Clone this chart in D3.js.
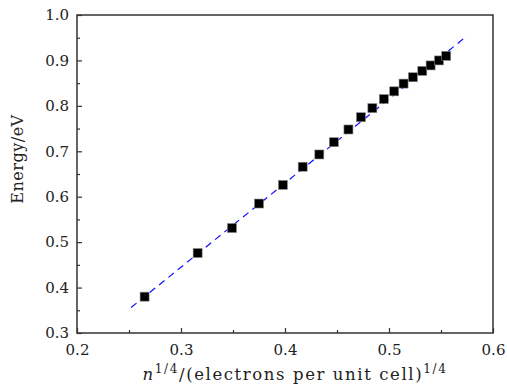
<!DOCTYPE html>
<html>
<head>
<meta charset="utf-8">
<script src="https://cdn.jsdelivr.net/npm/d3@7"></script>
<style>
  body { margin: 0; background: #fff; }
  text { font-family: "DejaVu Serif", "Liberation Serif", serif; fill: #222; }
</style>
</head>
<body>
<div id="chart"></div>
<script>
// Measured points
const xValues = [0.265, 0.316, 0.349, 0.375, 0.398, 0.417, 0.433, 0.447, 0.461, 0.473,
                 0.484, 0.495, 0.505, 0.514, 0.523, 0.532, 0.540, 0.548, 0.555];
const yValues = [0.380, 0.476, 0.531, 0.585, 0.626, 0.666, 0.693, 0.720, 0.748, 0.775,
                 0.795, 0.815, 0.832, 0.849, 0.863, 0.877, 0.889, 0.900, 0.910];
// Linear fit line end points
const fitX = [0.252, 0.575];
const fitY = [0.356, 0.954];
const xTicks = [0.2, 0.3, 0.4, 0.5, 0.6];
const yTicks = [0.3, 0.4, 0.5, 0.6, 0.7, 0.8, 0.9, 1.0];

const W = 507, H = 387;
const margin = { top: 15, right: 14, bottom: 54, left: 77 };
const width = W - margin.left - margin.right;
const height = H - margin.top - margin.bottom;

const svg = d3.select("#chart").append("svg")
    .attr("width", W).attr("height", H);
const g = svg.append("g").attr("transform", `translate(${margin.left},${margin.top})`);

const x = d3.scaleLinear().domain([0.2, 0.6]).range([0, width]);
const y = d3.scaleLinear().domain([0.3, 1.0]).range([height, 0]);

// frame
g.append("rect")
    .attr("width", width).attr("height", height)
    .attr("fill", "none").attr("stroke", "#333").attr("stroke-width", 1.5);

// x axis (ticks inward)
const xAxis = g.append("g").attr("transform", `translate(0,${height})`)
    .call(d3.axisBottom(x).tickValues(xTicks).tickFormat(d3.format(".1f")).tickSizeInner(-5).tickSizeOuter(0).tickPadding(11));
xAxis.select(".domain").remove();
xAxis.selectAll("text").style("font-size", "15px");
g.append("g").attr("transform", `translate(0,${height})`)
    .call(d3.axisBottom(x).tickValues(d3.range(0.25, 0.6, 0.1)).tickFormat("").tickSizeInner(-3).tickSizeOuter(0))
    .select(".domain").remove();

// y axis (ticks inward)
const yAxis = g.append("g")
    .call(d3.axisLeft(y).tickValues(yTicks).tickFormat(d3.format(".1f")).tickSizeInner(-5).tickSizeOuter(0).tickPadding(8));
yAxis.select(".domain").remove();
yAxis.selectAll("text").style("font-size", "15px");
g.append("g")
    .call(d3.axisLeft(y).tickValues(d3.range(0.35, 1.0, 0.1)).tickFormat("").tickSizeInner(-3).tickSizeOuter(0))
    .select(".domain").remove();

g.selectAll(".tick line").attr("stroke", "#333").attr("stroke-width", 1.2);

// fit line
const fit = fitX.map((d, i) => [d, fitY[i]]);
g.append("path")
    .datum(fit)
    .attr("fill", "none")
    .attr("stroke", "#1010ff")
    .attr("stroke-width", 1.2)
    .attr("stroke-dasharray", "7,5")
    .attr("d", d3.line().x(d => x(d[0])).y(d => y(d[1])));

// points
const pts = xValues.map((d, i) => [d, yValues[i]]);
const s = 9;
g.selectAll("rect.pt")
    .data(pts)
    .enter()
    .append("rect")
    .attr("class", "pt")
    .attr("x", d => x(d[0]) - s / 2)
    .attr("y", d => y(d[1]) - s / 2)
    .attr("width", s).attr("height", s)
    .attr("fill", "#000")
    .attr("stroke", "#888").attr("stroke-width", 0.6);

// axis labels
const xl = svg.append("text")
    .attr("x", 295)
    .attr("y", 380)
    .attr("text-anchor", "middle")
    .style("font-size", "16.5px")
    .style("letter-spacing", "1.6px");
xl.append("tspan").style("font-style", "italic").text("n");
xl.append("tspan").attr("dy", -7).style("font-size", "12px").text("1/4");
xl.append("tspan").attr("dy", 7).text("/(electrons per unit cell)");
xl.append("tspan").attr("dy", -7).style("font-size", "12px").text("1/4");

svg.append("text")
    .attr("transform", `translate(23,159)rotate(-90)`)
    .attr("text-anchor", "middle")
    .style("font-size", "16px")
    .style("letter-spacing", "0.5px")
    .text("Energy/eV");
</script>
</body>
</html>
